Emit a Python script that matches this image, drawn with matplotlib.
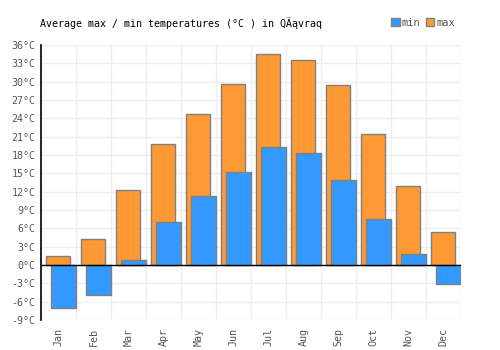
import matplotlib
matplotlib.use('Agg')
from matplotlib import pyplot as plt
from matplotlib.patches import Patch

months = ['Jan', 'Feb', 'Mar', 'Apr', 'May', 'Jun', 'Jul', 'Aug', 'Sep', 'Oct', 'Nov', 'Dec']
t_max = [1.5, 4.3, 12.3, 19.8, 24.7, 29.6, 34.5, 33.5, 29.4, 21.5, 12.9, 5.4]
t_min = [-7.0, -4.9, 0.8, 7.0, 11.3, 15.2, 19.3, 18.3, 13.9, 7.5, 1.8, -3.1]
y_ticks = list(range(-9, 37, 3))

plt.rcParams['font.family'] = ['DejaVu Sans Mono', 'DejaVu Sans']

fig = plt.figure(figsize=(5, 3.5), dpi=100)
ax = fig.add_axes([0.082, 0.0857, 0.84, 0.7857])

x = list(range(len(months)))
# max behind, min in front, shifted right
ax.bar([i - 0.014 for i in x], t_max, width=0.67, color='#ff9933',
       edgecolor='#808080', linewidth=1, zorder=2)
ax.bar([i + 0.143 for i in x], t_min, width=0.70, color='#3399ff',
       edgecolor='#808080', linewidth=1, zorder=3)

ax.axhline(0, color='black', linewidth=1, zorder=4)

ax.set_xlim(-0.5, 11.5)
ax.set_ylim(-9, 36)
ax.set_yticks(y_ticks)
ax.set_yticklabels(['%d°C' % t for t in y_ticks])
ax.set_xticks(x)
ax.set_xticklabels(months, rotation=90)
ax.grid(False)
for v in y_ticks:
    ax.axhline(v, color='#eeeeee', linewidth=1, zorder=0)
for i in range(13):
    ax.axvline(i - 0.5, color='#eeeeee', linewidth=1, zorder=0)

ax.tick_params(axis='both', which='both', length=0, labelsize=7.2, colors='#555555')
ax.tick_params(axis='x', pad=6)
ax.tick_params(axis='y', pad=4)
for s in ['top', 'right', 'bottom']:
    ax.spines[s].set_visible(False)
ax.spines['left'].set_color('black')
ax.spines['left'].set_linewidth(1.2)

fig.text(0.08, 0.934, 'Average max / min temperatures (°C ) in QÄąvraq',
         fontsize=7.2, color='black', va='center')

handles = [Patch(facecolor='#3399ff', edgecolor='#808080'),
           Patch(facecolor='#ff9933', edgecolor='#808080')]
leg = fig.legend(handles, ['min', 'max'], loc='center', bbox_to_anchor=(0.846, 0.934),
                 ncol=2, frameon=False, fontsize=7.5, handlelength=0.8, handleheight=0.8,
                 handletextpad=0.2, columnspacing=0.5, labelcolor='#555555')

fig.savefig('out.png', dpi=100)
